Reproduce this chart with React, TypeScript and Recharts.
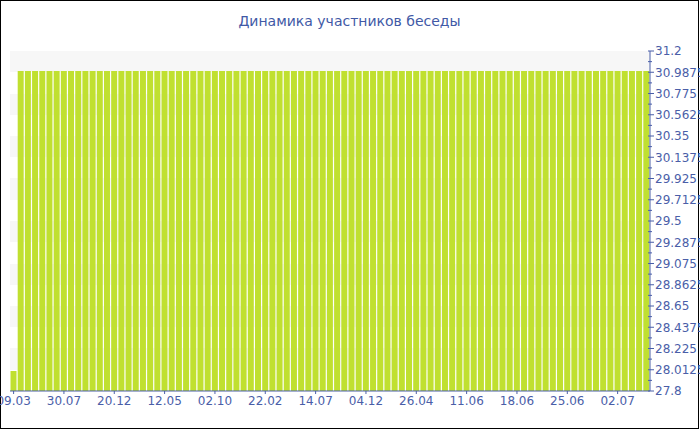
import React from 'react';
import { BarChart, Bar, XAxis, YAxis, CartesianGrid } from 'recharts';

const dates: string[] = [
  '09.03', '29.03', '18.04', '08.05', '29.05', '18.06', '09.07',
  '30.07', '19.08', '08.09', '29.09', '19.10', '09.11', '30.11',
  '20.12', '09.01', '29.01', '18.02', '10.03', '31.03', '21.04',
  '12.05', '01.06', '21.06', '12.07', '01.08', '22.08', '11.09',
  '02.10', '22.10', '11.11', '01.12', '21.12', '11.01', '01.02',
  '22.02', '14.03', '03.04', '24.04', '14.05', '03.06', '24.06',
  '14.07', '03.08', '23.08', '12.09', '03.10', '23.10', '13.11',
  '04.12', '24.12', '13.01', '02.02', '23.02', '15.03', '05.04',
  '26.04', '03.05', '09.05', '16.05', '22.05', '29.05', '04.06',
  '11.06', '12.06', '13.06', '14.06', '15.06', '16.06', '17.06',
  '18.06', '19.06', '20.06', '21.06', '22.06', '23.06', '24.06',
  '25.06', '26.06', '27.06', '28.06', '29.06', '30.06', '01.07',
  '02.07', '03.07', '04.07', '05.07', '06.07',
];

const members: number[] = [
  28, 31, 31, 31, 31, 31, 31,
  31, 31, 31, 31, 31, 31, 31,
  31, 31, 31, 31, 31, 31, 31,
  31, 31, 31, 31, 31, 31, 31,
  31, 31, 31, 31, 31, 31, 31,
  31, 31, 31, 31, 31, 31, 31,
  31, 31, 31, 31, 31, 31, 31,
  31, 31, 31, 31, 31, 31, 31,
  31, 31, 31, 31, 31, 31, 31,
  31, 31, 31, 31, 31, 31, 31,
  31, 31, 31, 31, 31, 31, 31,
  31, 31, 31, 31, 31, 31, 31,
  31, 31, 31, 31, 31,
];

const yTicks: number[] = [
  27.8, 28.0125, 28.225, 28.4375, 28.65, 28.8625, 29.075, 29.2875, 29.5,
  29.7125, 29.925, 30.1375, 30.35, 30.5625, 30.775, 30.9875, 31.2,
];

const title = 'Динамика участников беседы';

const data = dates.map((d, i) => ({ date: d, value: members[i] }));

const AXIS = '#4a5ea8';
const FONT = '"DejaVu Sans", Verdana, sans-serif';

const YTick = (props: any) => {
  const { x, y, payload, index } = props;
  const half = 10.625;
  const ax = x - 10;
  return (
    <g>
      <line x1={ax - 2} y1={y} x2={ax + 4} y2={y} stroke={AXIS} strokeWidth={1} />
      {index !== 0 && (
        <line x1={ax - 2} y1={y + half} x2={ax + 2} y2={y + half} stroke={AXIS} strokeWidth={1} />
      )}
      <text x={ax + 5} y={y} dy="0.36em" fill={AXIS} fontSize={12} fontFamily={FONT} textAnchor="start">
        {String(payload.value)}
      </text>
    </g>
  );
};

export default function App() {
  return (
    <div
      style={{
        position: 'absolute',
        left: 0,
        top: 0,
        width: 699,
        height: 429,
        boxSizing: 'border-box',
        border: '1px solid #000',
        background: '#fff',
      }}
    >
      <style>{'.recharts-surface { overflow: visible; } .recharts-wrapper { overflow: visible; }'}</style>
      <div
        style={{
          position: 'absolute',
          left: 0,
          top: 12,
          width: 697,
          textAlign: 'center',
          fontFamily: FONT,
          fontSize: 14,
          color: '#4159a6',
        }}
      >
        {title}
      </div>
      <BarChart
        width={697}
        height={427}
        data={data}
        margin={{ top: 50, right: 0, bottom: 7, left: 9 }}
        barCategoryGap="7%"
      >
        <CartesianGrid
          vertical={false}
          stroke="none"
          horizontalFill={['#f7f7f7', '#ffffff']}
          fillOpacity={1}
        />
        <XAxis
          dataKey="date"
          interval={6}
          height={30}
          tickSize={3}
          stroke={AXIS}
          tick={{ fill: AXIS, fontSize: 12, fontFamily: FONT }}
          tickLine={{ stroke: AXIS }}
          axisLine={{ stroke: AXIS }}
        />
        <YAxis
          orientation="right"
          width={48}
          domain={[27.8, 31.2]}
          ticks={yTicks}
          interval={0}
          allowDataOverflow
          tickLine={false}
          axisLine={{ stroke: AXIS }}
          tick={<YTick />}
          tickSize={8}
        />
        <Bar dataKey="value" fill="#c0e030" isAnimationActive={false} />
      </BarChart>
    </div>
  );
}
